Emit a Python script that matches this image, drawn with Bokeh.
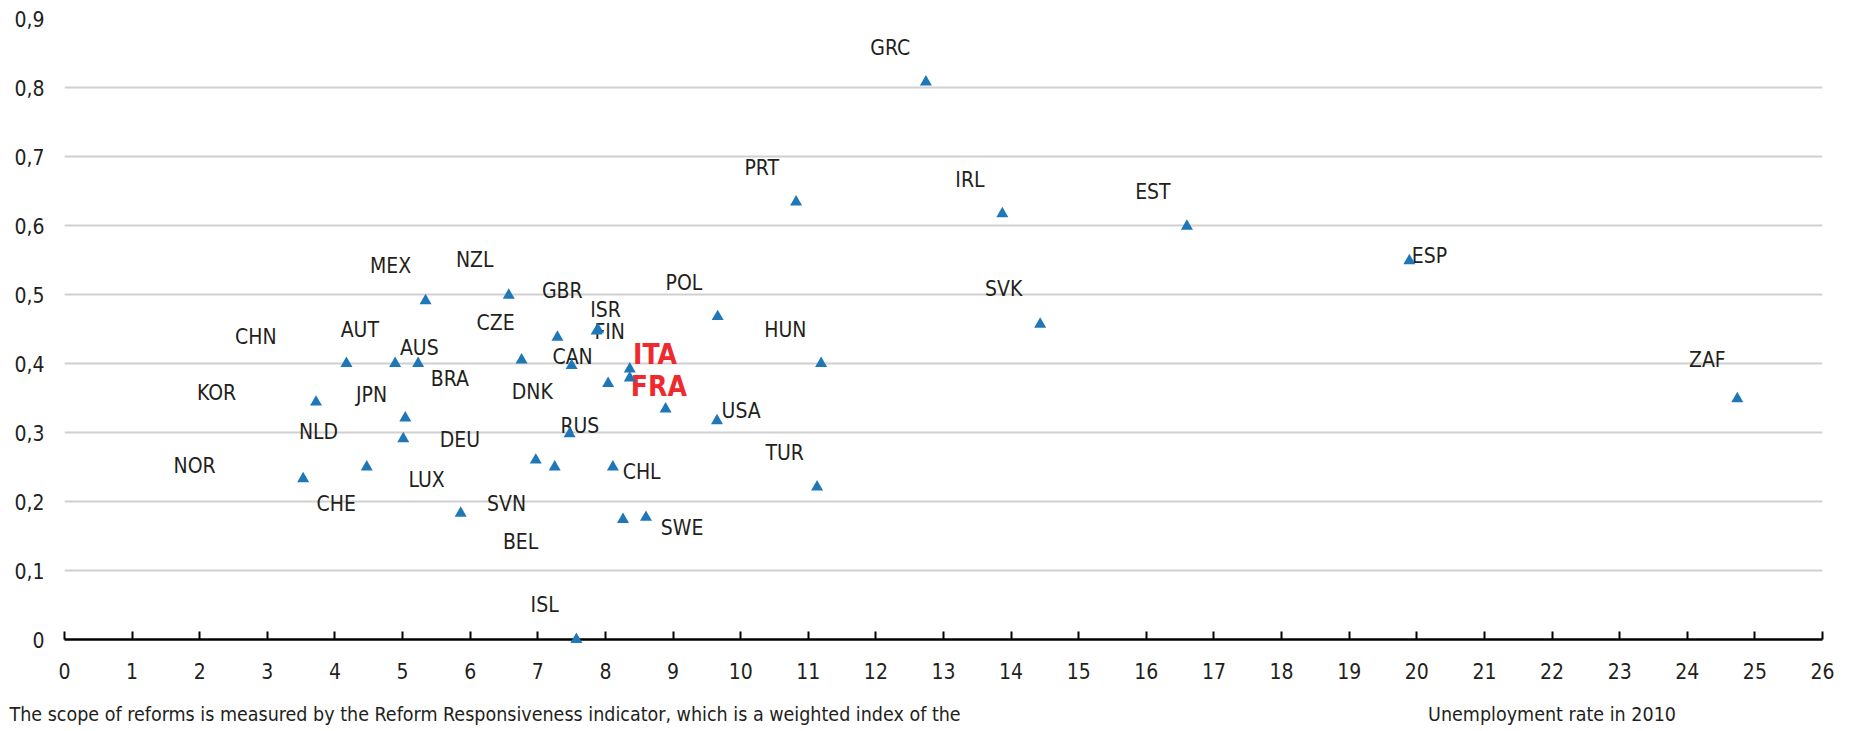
from bokeh.plotting import figure
from bokeh.models import ColumnDataSource, FixedTicker, Range1d, LinearAxis
from bokeh.core.properties import value, field
from bokeh.embed import file_html
from bokeh.resources import INLINE

# ---------------- data ----------------
countries = ["CHN", "AUT", "AUS", "KOR", "JPN", "NLD", "CHE", "NOR", "LUX", "MEX",
             "NZL", "BRA", "CZE", "GBR", "ISR", "DNK", "FIN", "ITA", "CAN", "RUS",
             "DEU", "SVN", "CHL", "BEL", "SWE", "ISL", "FRA", "USA", "POL", "HUN",
             "TUR", "PRT", "GRC", "IRL", "EST", "SVK", "ESP", "ZAF"]
unemployment_2010 = [4.17, 4.89, 5.23, 3.72, 5.04, 5.01, 4.47, 3.53, 5.86, 5.34,
                     6.57, 6.76, 7.29, 7.89, 7.87, 7.50, 8.36, 8.36, 8.04, 7.47,
                     6.97, 7.25, 8.11, 8.26, 8.60, 7.57, 8.89, 9.65, 9.66, 11.19,
                     11.13, 10.82, 12.74, 13.87, 16.60, 14.43, 19.89, 24.74]
reform_scope = [0.400, 0.400, 0.400, 0.344, 0.321, 0.291, 0.250, 0.233, 0.183, 0.491,
                0.499, 0.405, 0.438, 0.449, 0.447, 0.397, 0.392, 0.379, 0.371, 0.298,
                0.260, 0.250, 0.250, 0.174, 0.177, 0.000, 0.334, 0.317, 0.468, 0.400,
                0.221, 0.634, 0.808, 0.617, 0.599, 0.457, 0.549, 0.349]
highlighted = ["ITA", "FRA"]

x_ticks = list(range(0, 27))
x_tick_labels = [str(t) for t in x_ticks]
y_ticks = [0, 0.1, 0.2, 0.3, 0.4, 0.5, 0.6, 0.7, 0.8, 0.9]
y_tick_labels = ["0", "0,1", "0,2", "0,3", "0,4", "0,5", "0,6", "0,7", "0,8", "0,9"]
x_title = "Unemployment rate in 2010"
x_title_at = 22
footnote = ("The scope of reforms is measured by the Reform Responsiveness indicator, "
            "which is a weighted index of the")
footnote_at = 6.22

# label placement relative to each point (screen pixels, right / down)
label_dx = [-90.6, -35.3, 1.2, -99.5, -33.7, -84.7, -30.5, -108.6, -34.1, -35.0,
            -34.0, -71.7, -61.8, -35.7, 9.0, -39.3, -20.1, 25.2, -35.5, 10.3,
            -75.9, -48.1, 28.8, -102.4, 36.1, -31.7, -6.7, 24.2, -33.7, -35.7,
            -32.4, -34.4, -35.7, -32.4, -34.0, -36.5, 20.0, -30.0]
label_dy = [-27.0, -34.0, -15.7, -9.3, -23.5, -6.5, 36.8, -13.2, -33.7, -35.2,
            -34.7, 18.7, -14.1, -38.2, -20.6, 26.7, -37.5, -23.5, -27.0, -7.4,
            -20.6, 36.8, 4.5, 22.7, 11.1, -34.7, -22.5, -10.0, -33.7, -33.5,
            -34.5, -33.6, -34.4, -33.3, -34.0, -35.5, -5.0, -39.0]

# ---------------- style / layout ----------------
FONT = ("'Liberation Sans Narrow', 'Arial Narrow', 'Nimbus Sans Narrow', "
        "'DejaVu Sans Condensed', 'Liberation Sans', sans-serif")
TEXT = "#231F20"
BLUE = "#1F77B8"
RED = "#EE2A2E"
GRID = "#D0D0D0"
FS = "21px"

src = ColumnDataSource(dict(
    x=unemployment_2010,
    y=reform_scope,
    name=countries,
    dx=label_dx,
    dy=label_dy,
    color=[RED if c in highlighted else TEXT for c in countries],
    fsize=["28px" if c in highlighted else FS for c in countries],
    fstyle=["bold" if c in highlighted else "normal" for c in countries],
))

p = figure(width=1852, height=731,
           x_range=Range1d(0, 26), y_range=Range1d(0, 0.9),
           output_backend="svg", toolbar_location=None,
           min_border_left=64, min_border_right=30,
           min_border_top=18, min_border_bottom=92)
p.outline_line_color = None
p.background_fill_color = "white"
p.border_fill_color = "white"

p.xgrid.grid_line_color = None
p.ygrid.grid_line_color = GRID
p.ygrid.grid_line_width = 2

# x axis
p.xaxis.ticker = FixedTicker(ticks=x_ticks)
p.xaxis.major_label_overrides = {t: l for t, l in zip(x_ticks, x_tick_labels)}
p.xaxis.axis_line_color = "black"
p.xaxis.axis_line_width = 2.5
p.xaxis.major_tick_line_color = "black"
p.xaxis.major_tick_line_width = 2
p.xaxis.major_tick_in = 8
p.xaxis.major_tick_out = 0
p.xaxis.minor_tick_line_color = None
p.xaxis.major_label_standoff = 23
p.xaxis.major_label_text_font = FONT
p.xaxis.major_label_text_font_size = FS
p.xaxis.major_label_text_color = TEXT

# axis title and footnote, as labels of a second, invisible axis below the first
text_axis = LinearAxis(ticker=FixedTicker(ticks=[footnote_at, x_title_at]),
                       major_label_overrides={footnote_at: footnote, x_title_at: x_title},
                       axis_line_color=None, major_tick_line_color=None,
                       minor_tick_line_color=None, major_tick_in=0, major_tick_out=0,
                       major_label_standoff=21,
                       major_label_text_font=FONT, major_label_text_font_size="19.5px",
                       major_label_text_color=TEXT)
p.add_layout(text_axis, "below")

# y axis
p.yaxis.ticker = FixedTicker(ticks=y_ticks)
p.yaxis.major_label_overrides = {t: l for t, l in zip(y_ticks, y_tick_labels)}
p.yaxis.axis_line_color = None
p.yaxis.major_tick_line_color = None
p.yaxis.minor_tick_line_color = None
p.yaxis.major_tick_out = 0
p.yaxis.major_tick_in = 0
p.yaxis.major_label_standoff = 20
p.yaxis.major_label_text_font = FONT
p.yaxis.major_label_text_font_size = FS
p.yaxis.major_label_text_color = TEXT

# points
p.scatter("x", "y", source=src, marker="triangle", size=12,
          fill_color=BLUE, line_color=None, level="overlay")

# country labels
p.text(x="x", y="y", text="name", source=src,
       x_offset="dx", y_offset="dy",
       text_align="center", text_baseline="middle",
       text_font=value(FONT), text_font_size=field("fsize"),
       text_color=field("color"), text_font_style=field("fstyle"))

open("out.html", "w").write(file_html(p, INLINE))
